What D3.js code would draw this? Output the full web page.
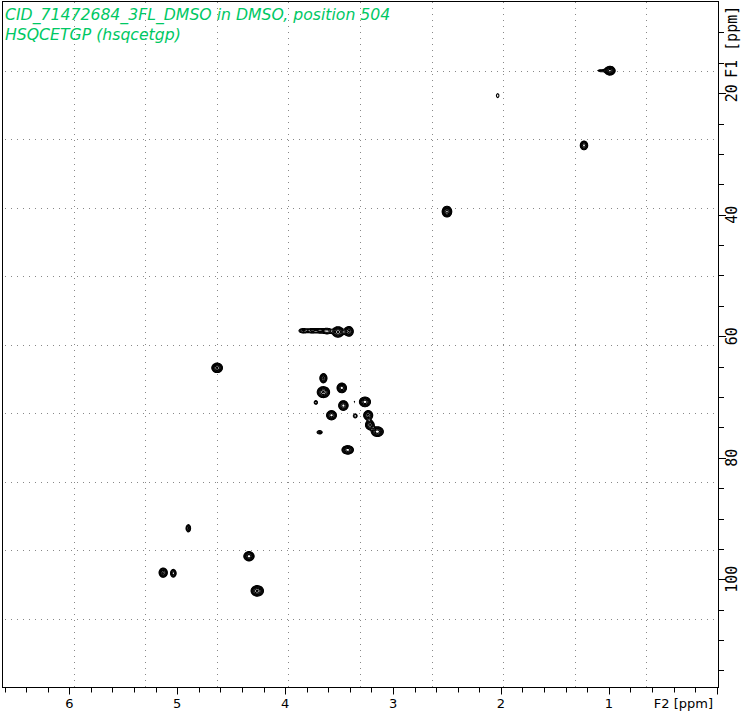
<!DOCTYPE html>
<html><head><meta charset="utf-8">
<script src="https://cdn.jsdelivr.net/npm/d3@7"></script>
<style>
html,body{margin:0;padding:0;background:#fff;}
svg{display:block;}
</style></head>
<body>
<script>
// ---- data ----
const titleLines = ["CID_71472684_3FL_DMSO in DMSO, position 504", "HSQCETGP (hsqcetgp)"];
const f2Domain = [6.624, -0.012];   // ppm, left -> right
const f1Domain = [5.0, 117.8];      // ppm, top -> bottom
const f2TickLabels = [6, 5, 4, 3, 2, 1];
const f1TickLabels = [20, 40, 60, 80, 100];
const f2Label = "F2 [ppm]";
const f1Label = "F1 [ppm]";

// cross peaks: F2 (1H) ppm, F1 (13C) ppm, relative intensity, line widths (ppm)
const peakF2 = [0.99, 1.07, 2.03, 1.23, 2.50, 3.83, 3.75, 3.68, 3.61, 3.51, 3.41, 4.63, 3.645, 3.645, 3.475, 3.715, 3.46, 3.26, 3.36, 3.57, 3.35, 3.23, 3.215, 3.145, 3.68, 3.42, 4.897, 4.335, 5.13, 5.036, 4.258];
const peakF1 = [16.3, 16.3, 20.4, 28.6, 39.5, 59.1, 59.1, 59.1, 59.15, 59.3, 59.2, 65.2, 66.9, 69.2, 68.5, 70.9, 71.4, 70.8, 70.8, 73.0, 73.1, 73.0, 74.6, 75.7, 75.8, 78.7, 91.6, 96.2, 98.9, 99.0, 101.9];
const peakInt = [9, 1.6, 1.4, 5, 9, 3, 3, 3, 3.5, 8, 6, 8, 6, 8, 7, 2, 7, 7, 1.2, 7, 2, 6, 6, 7, 2.2, 7, 3, 7, 6, 3.5, 8];
const peakWF2 = [0.023, 0.032, 0.014, 0.019, 0.021, 0.028, 0.028, 0.028, 0.028, 0.026, 0.022, 0.024, 0.017, 0.028, 0.022, 0.013, 0.022, 0.026, 0.007, 0.023, 0.015, 0.022, 0.021, 0.028, 0.019, 0.027, 0.014, 0.024, 0.020, 0.016, 0.028];
const peakWF1 = [0.34, 0.17, 0.40, 0.40, 0.42, 0.24, 0.24, 0.24, 0.28, 0.42, 0.42, 0.38, 0.40, 0.44, 0.40, 0.26, 0.40, 0.40, 0.16, 0.38, 0.28, 0.40, 0.40, 0.40, 0.22, 0.35, 0.40, 0.38, 0.40, 0.40, 0.42];
const contourLevels = [1, 1.4, 1.96, 2.74, 3.84, 5.38, 7.53, 10.5];

// ---- layout ----
const W = 747, H = 717;
const X0 = 2, X1 = 718, Y0 = 2, Y1 = 687.5;
const svg = d3.select("body").append("svg").attr("width", W).attr("height", H);

const x = d3.scaleLinear().domain(f2Domain).range([X0, X1]);
const y = d3.scaleLinear().domain(f1Domain).range([Y0, Y1]);

// grid (10 x 10 divisions, dotted)
const gridG = svg.append("g");
for (let i = 1; i < 10; i++) {
  const gx = X0 + (X1 - X0) * i / 10;
  gridG.append("line").attr("x1", Math.round(gx) + 0.5).attr("x2", Math.round(gx) + 0.5)
    .attr("y1", Y0).attr("y2", Y1).attr("stroke", "#888").attr("stroke-dasharray", "1,5");
  const gy = Y0 + (Y1 - Y0) * i / 10;
  gridG.append("line").attr("y1", Math.round(gy) + 0.5).attr("y2", Math.round(gy) + 0.5)
    .attr("x1", X0 + 3).attr("x2", X1).attr("stroke", "#888").attr("stroke-dasharray", "1,5");
}

// contour field
const gw = Math.ceil(X1 - X0), gh = Math.ceil(Y1 - Y0);
const field = new Float64Array(gw * gh);
for (let k = 0; k < peakF2.length; k++) {
  const cx = x(peakF2[k]) - X0, cy = y(peakF1[k]) - Y0;
  const sx = Math.abs(x(0) - x(peakWF2[k])), sy = Math.abs(y(0) - y(peakWF1[k]));
  const A = peakInt[k];
  const i0 = Math.max(0, Math.floor(cx - 6 * sx)), i1 = Math.min(gw - 1, Math.ceil(cx + 6 * sx));
  const j0 = Math.max(0, Math.floor(cy - 6 * sy)), j1 = Math.min(gh - 1, Math.ceil(cy + 6 * sy));
  for (let j = j0; j <= j1; j++) {
    const dy = (j + 0.5 - cy) / sy;
    for (let i = i0; i <= i1; i++) {
      const dx = (i + 0.5 - cx) / sx;
      field[j * gw + i] += A * Math.exp(-0.5 * (dx * dx + dy * dy));
    }
  }
}
const contours = d3.contours().size([gw, gh]).smooth(true).thresholds(contourLevels)(field);
svg.append("g").attr("transform", `translate(${X0},${Y0})`)
  .selectAll("path").data(contours).join("path")
  .attr("d", d3.geoPath())
  .attr("fill", "none").attr("stroke", "#000").attr("stroke-width", 1.1);

// frame
svg.append("rect").attr("x", X0 + 0.5).attr("y", Y0 - 0.5).attr("width", X1 - X0).attr("height", Y1 - Y0 + 0.5)
  .attr("fill", "none").attr("stroke", "#000").attr("stroke-width", 1);

// bottom axis (F2)
const xTicks = d3.range(0, 34).map(i => +(i * 0.2).toFixed(1));
const bx = svg.append("g");
bx.selectAll("line").data(xTicks).join("line")
  .attr("x1", d => Math.round(x(d)) + 0.5).attr("x2", d => Math.round(x(d)) + 0.5)
  .attr("y1", Y1).attr("y2", d => Y1 + (Math.abs(d - Math.round(d)) < 1e-6 ? 7 : 5))
  .attr("stroke", "#000");
bx.selectAll("text").data(f2TickLabels).join("text")
  .attr("x", d => x(d)).attr("y", 707.5).attr("text-anchor", "middle")
  .attr("font-family", "DejaVu Sans").attr("font-size", 13).text(d => d);
bx.append("text").attr("x", 713).attr("y", 707.5).attr("text-anchor", "end")
  .attr("font-family", "DejaVu Sans").attr("font-size", 13).text(f2Label);

// right axis (F1)
const yTicks = d3.range(10, 116, 5);
const ry = svg.append("g");
ry.selectAll("line").data(yTicks).join("line")
  .attr("y1", d => Math.round(y(d)) + 0.5).attr("y2", d => Math.round(y(d)) + 0.5)
  .attr("x1", X1).attr("x2", d => X1 + (d % 20 === 0 ? 8 : 6))
  .attr("stroke", "#000");
ry.selectAll("text").data(f1TickLabels).join("text")
  .attr("transform", d => `translate(737,${y(d)}) rotate(-90)`)
  .attr("text-anchor", "middle")
  .attr("font-family", "DejaVu Sans Mono").attr("font-size", 15).text(d => d);
ry.append("text").attr("transform", "translate(737,78) rotate(-90)")
  .attr("text-anchor", "start")
  .attr("font-family", "DejaVu Sans Mono").attr("font-size", 15).text(f1Label);

// title
svg.append("g").selectAll("text").data(titleLines).join("text")
  .attr("x", 5).attr("y", (d, i) => 20 + i * 19.5)
  .attr("font-family", "DejaVu Sans").attr("font-style", "italic")
  .attr("font-size", 15.7).attr("fill", "#00c864").text(d => d);
</script>
</body></html>
